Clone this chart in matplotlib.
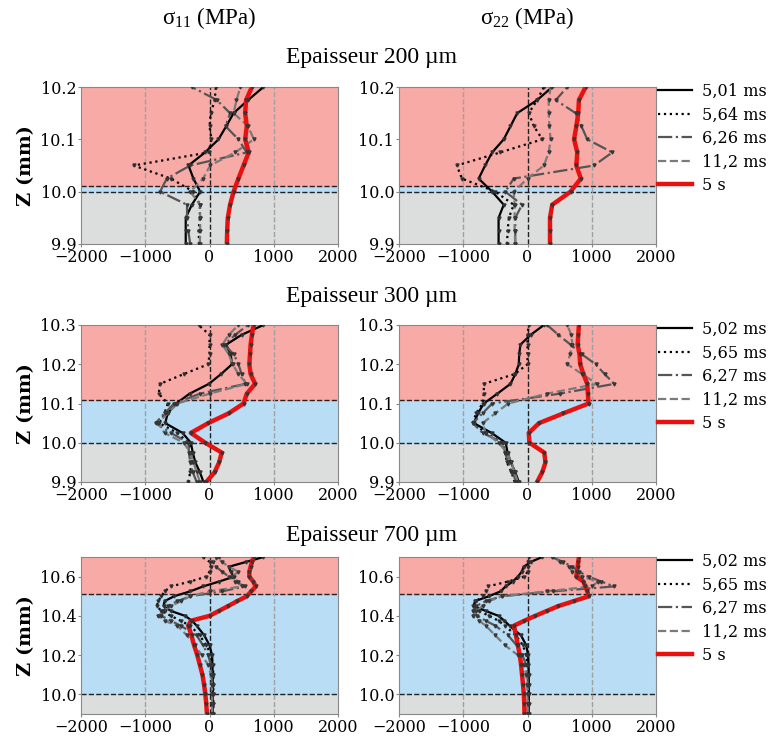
import matplotlib
matplotlib.use('Agg')
import matplotlib.pyplot as plt
import numpy as np

plt.rcParams['font.family'] = 'DejaVu Serif'
plt.rcParams['mathtext.fontset'] = 'custom'
plt.rcParams['mathtext.rm'] = 'Liberation Serif'
plt.rcParams['mathtext.default'] = 'regular'

# ---- data ----
labels_200 = ['5,01 ms', '5,64 ms', '6,26 ms', '11,2 ms', '5 s']
labels_300 = ['5,02 ms', '5,65 ms', '6,27 ms', '11,2 ms', '5 s']
labels_700 = ['5,02 ms', '5,65 ms', '6,27 ms', '11,2 ms', '5 s']

# Epaisseur 200 um
z_200 = [9.9, 9.925, 9.95, 9.975, 10.0, 10.025, 10.05, 10.075, 10.1, 10.125, 10.15, 10.175, 10.2]
s11_200 = [
    [-370, -370, -370, -275, -145, -250, -327, -70, 140, 260, 374, 600, 840],
    [-160, -170, -150, -150, -250, -600, -1180, -15, 30, 0, 20, 80, 100],
    [-300, -330, -350, -350, -770, -665, -300, 580, 450, 250, 320, 115, -275],
    [-150, -145, -145, -145, -300, -100, 10, 400, 690, 600, 375, 420, 480],
    [270, 275, 285, 320, 375, 450, 530, 610, 555, 580, 555, 570, 660],
]
s22_200 = [
    [-450, -450, -450, -370, -550, -760, -660, -550, -370, -265, -160, 150, 385],
    [-318, -310, -290, -215, -500, -1020, -1100, -425, 230, 100, 20, 150, 255],
    [-190, -190, -190, -85, -345, -215, 1035, 1320, 930, 840, 750, 440, 620],
    [-190, -200, -200, -200, -215, 0, 255, 330, 360, 340, 330, 330, 360],
    [350, 350, 350, 385, 670, 830, 760, 775, 725, 760, 790, 800, 905],
]

# Epaisseur 300 um
z_300 = [9.9, 9.925, 9.95, 9.975, 10.0, 10.025, 10.05, 10.075, 10.1, 10.125, 10.15,
         10.175, 10.2, 10.225, 10.25, 10.275, 10.3]
s11_300 = [
    [-93, -150, -220, -260, -290, -420, -690, -650, -520, -310, -10, 180, 350, 330, 260, 500, 840],
    [-330, -300, -280, -270, -330, -500, -780, -700, -650, -790, -770, -400, -20, 0, 0, 0, -170],
    [-200, -260, -300, -320, -330, -600, -840, -700, -550, -150, 560, 500, 450, 380, 230, 400, 600],
    [-150, -200, -250, -300, -400, -700, -800, -650, -500, 0, 580, 450, 360, 300, 200, 300, 450],
    [-50, 80, 150, 190, -67, -290, -20, 300, 530, 580, 710, 640, 620, 630, 640, 660, 685],
]
s22_300 = [
    [-135, -190, -260, -310, -340, -560, -835, -770, -680, -470, -265, -190, -135, -130, -110, 50, 255],
    [-200, -250, -320, -350, -400, -650, -850, -800, -700, -680, -680, -200, 0, 0, 0, 0, 20],
    [-180, -230, -300, -350, -380, -700, -850, -700, -550, 500, 1350, 1200, 1060, 850, 670, 480, 306],
    [-150, -200, -250, -320, -450, -650, -700, -500, -300, 300, 1080, 850, 620, 660, 700, 680, 620],
    [150, 230, 280, 260, 30, 20, 180, 560, 950, 940, 930, 870, 820, 810, 780, 790, 800],
]

# Epaisseur 700 um
z_700 = [9.9, 9.95, 10.0, 10.05, 10.1, 10.15, 10.2, 10.25, 10.3, 10.35, 10.375, 10.4,
         10.425, 10.45, 10.475, 10.5, 10.525, 10.55, 10.575, 10.6, 10.625, 10.65, 10.675, 10.7]
s11_700 = [
    [50, 50, 50, 50, 50, 45, 40, 0, -80, -200, -270, -380, -600, -715, -700, -550, -300, -100, 150, 380, 330, 300, 570, 840],
    [60, 60, 60, 60, 60, 50, 30, -50, -150, -300, -450, -600, -750, -820, -800, -750, -700, -600, -300, -50, 0, 20, 0, -100],
    [40, 40, 40, 40, 35, 20, -20, -100, -200, -450, -600, -750, -720, -650, -500, -300, 200, 550, 400, 300, 200, 100, 50, 150],
    [40, 40, 40, 35, 20, -20, -120, -230, -350, -500, -700, -800, -700, -600, -450, -300, 0, 500, 450, 350, 450, 300, 200, 100],
    [-40, -50, -65, -85, -110, -150, -190, -240, -280, -330, -290, 0, 145, 290, 430, 580, 650, 720, 680, 620, 620, 640, 660, 690],
]
s22_700 = [
    [20, 20, 20, 20, 20, 15, 10, -20, -100, -280, -360, -450, -650, -830, -820, -600, -420, -340, -230, -150, -90, -60, 50, 230],
    [10, 10, 10, 10, 10, 0, -20, -70, -180, -350, -450, -600, -750, -850, -800, -700, -650, -620, -300, -50, 0, 10, 10, 20],
    [10, 10, 10, 5, 0, -20, -80, -170, -300, -500, -650, -780, -850, -800, -650, -400, 400, 1345, 1150, 950, 800, 700, 550, 380],
    [0, 0, 0, -5, -20, -60, -150, -350, -500, -650, -750, -850, -800, -700, -600, -400, 300, 1000, 1100, 850, 700, 650, 500, 400],
    [-47, -50, -57, -70, -85, -100, -120, -150, -180, -210, -50, 120, 300, 480, 720, 955, 930, 900, 870, 760, 770, 780, 790, 800],
]

rows = [
    ('Epaisseur 200 µm', z_200, s11_200, s22_200, labels_200, (9.9, 10.2), [9.9, 10.0, 10.1, 10.2], (10.0, 10.01)),
    ('Epaisseur 300 µm', z_300, s11_300, s22_300, labels_300, (9.9, 10.3), [9.9, 10.0, 10.1, 10.2, 10.3], (10.0, 10.11)),
    ('Epaisseur 700 µm', z_700, s11_700, s22_700, labels_700, (9.9, 10.7), [10.0, 10.2, 10.4, 10.6], (10.0, 10.51)),
]

styles = [
    dict(color='black', ls='-', lw=1.6),
    dict(color='black', ls=':', lw=1.6),
    dict(color='#555555', ls='-.', lw=1.6),
    dict(color='#7a7a7a', ls='--', lw=1.6),
    dict(color='#e8110f', ls='-', lw=3.2),
]

W, H = 769, 736
fig = plt.figure(figsize=(W / 100, H / 100), dpi=100)

col_left = [81, 399]
ax_w = 257
row_top = [87, 325, 557]
ax_h = 157
title_y = [58, 297, 535]

title_font = dict(family='Liberation Serif', fontsize=17)

for r, (title, z, s11, s22, labels, ylim, yticks, band) in enumerate(rows):
    fig.text(372 / W, 1 - title_y[r] / H, title, ha='center', va='center', **title_font)
    for c, data in enumerate([s11, s22]):
        ax = fig.add_axes([col_left[c] / W, 1 - (row_top[r] + ax_h) / H, ax_w / W, ax_h / H])
        ax.axhspan(ylim[0], band[0], color='#dcdedd', zorder=0)
        ax.axhspan(band[0], band[1], color='#b8ddf5', zorder=0)
        ax.axhspan(band[1], ylim[1], color='#f8aaa7', zorder=0)
        for yb in band:
            ax.axhline(yb, color='#222222', ls='--', lw=1.0, zorder=1)
        for xv in [-1000, 1000]:
            ax.axvline(xv, color='#a0a0a0', ls='--', lw=1.0, zorder=1)
        ax.axvline(0, color='#222222', ls='--', lw=1.0, zorder=1)
        for vals, lab, st in zip(data, labels, styles):
            ax.plot(vals, z, label=lab, zorder=3, **st)
            ax.plot(vals, z, ls='none', marker='v', ms=2.2, color=st['color'],
                    mec='#333333', zorder=4)
        ax.set_xlim(-2000, 2000)
        ax.set_ylim(*ylim)
        ax.set_xticks([-2000, -1000, 0, 1000, 2000])
        ax.set_yticks(yticks)
        ax.yaxis.set_major_formatter(matplotlib.ticker.FormatStrFormatter('%.1f'))
        ax.tick_params(labelsize=11.5, length=2, color='#888888', pad=1.5)
        for sp in ax.spines.values():
            sp.set_color('#888888')
        if c == 0:
            ax.set_ylabel('Z (mm)', fontsize=14, fontweight='bold', labelpad=4)
        else:
            ax.legend(loc='upper left', bbox_to_anchor=(1.0, 1.04), frameon=False,
                      fontsize=11.6, handlelength=2.1, handletextpad=0.6,
                      labelspacing=0.4, borderaxespad=0.0, borderpad=0.15)
        if r == 0:
            head = r'σ$_{11}$ (MPa)' if c == 0 else r'σ$_{22}$ (MPa)'
            fig.text((col_left[c] + ax_w / 2) / W, 1 - 18 / H, head,
                     ha='center', va='center', family='Liberation Serif', fontsize=16.5)

fig.savefig('out.png', dpi=100)
